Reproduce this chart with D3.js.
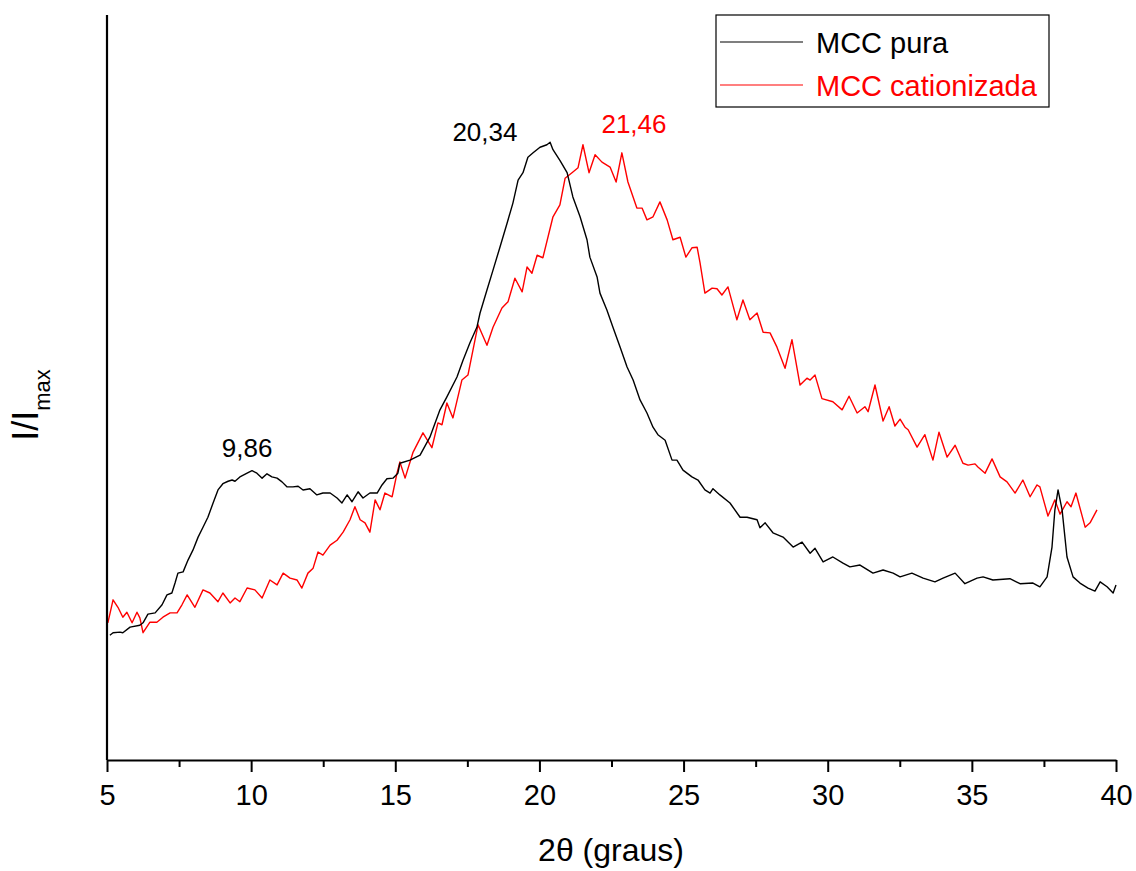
<!DOCTYPE html>
<html>
<head>
<meta charset="utf-8">
<script src="https://cdn.jsdelivr.net/npm/d3@7"></script>
<style>
  body { margin: 0; background: #fff; }
  text { font-family: Arial, "Liberation Sans", sans-serif; }
</style>
</head>
<body>
<svg id="chart"></svg>
<script>
// 2theta (graus) for MCC pura
const pureX = [5.10,5.21,5.45,5.55,5.80,6.14,6.25,6.42,6.67,6.91,7.08,7.25,7.36,7.46,7.64,7.81,7.98,8.16,8.33,8.50,
  8.68,8.85,9.02,9.20,9.34,9.44,9.61,9.86,10.03,10.20,10.38,10.55,10.72,10.90,11.07,11.24,11.45,11.63,11.80,12.04,
  12.28,12.49,12.74,12.98,13.15,13.33,13.50,13.71,13.88,14.12,14.37,14.54,14.71,14.92,15.09,15.16,15.51,15.86,16.20,16.55,
  16.79,17.14,17.35,17.59,17.83,17.94,18.18,18.39,18.63,18.88,19.08,19.26,19.43,19.60,19.78,20.02,20.26,20.37,20.47,20.71,
  20.96,21.16,21.41,21.65,21.75,22.00,22.10,22.34,22.55,22.80,23.04,23.25,23.49,23.73,23.94,24.11,24.36,24.60,24.77,24.98,
  25.29,25.50,25.74,25.92,26.02,26.26,26.61,26.96,27.20,27.55,27.65,27.83,28.10,28.45,28.80,29.11,29.39,29.56,29.84,30.18,
  30.53,30.77,31.12,31.57,31.92,32.27,32.51,32.92,33.31,33.72,34.00,34.42,34.76,35.18,35.39,35.73,36.32,36.67,37.12,37.36,
  37.61,37.78,37.88,37.99,38.13,38.30,38.51,38.75,39.03,39.27,39.45,39.69,39.90,40.00];
// I/Imax for MCC pura
const pureY = [0.201,0.205,0.206,0.205,0.214,0.217,0.221,0.235,0.237,0.250,0.266,0.269,0.285,0.301,0.303,0.322,0.338,0.359,0.375,0.391,
  0.414,0.435,0.445,0.449,0.451,0.449,0.456,0.462,0.466,0.462,0.454,0.461,0.456,0.454,0.448,0.440,0.440,0.441,0.435,0.437,
  0.427,0.430,0.430,0.422,0.414,0.427,0.416,0.432,0.422,0.430,0.430,0.443,0.453,0.454,0.462,0.478,0.483,0.491,0.520,0.564,
  0.585,0.617,0.644,0.672,0.697,0.720,0.757,0.789,0.826,0.865,0.897,0.934,0.946,0.971,0.978,0.987,0.991,0.995,0.983,0.966,
  0.946,0.907,0.875,0.838,0.810,0.778,0.752,0.725,0.697,0.665,0.633,0.612,0.580,0.559,0.536,0.524,0.515,0.483,0.483,0.467,
  0.456,0.451,0.435,0.430,0.437,0.427,0.414,0.391,0.391,0.387,0.374,0.382,0.366,0.359,0.343,0.351,0.333,0.341,0.319,0.327,
  0.317,0.311,0.314,0.301,0.306,0.301,0.295,0.301,0.293,0.287,0.293,0.301,0.284,0.293,0.295,0.290,0.292,0.284,0.285,0.279,
  0.295,0.343,0.403,0.435,0.403,0.327,0.295,0.285,0.277,0.272,0.287,0.279,0.269,0.282];

// 2theta (graus) for MCC cationizada
const catX = [5.03,5.21,5.38,5.55,5.69,5.87,6.04,6.14,6.25,6.49,6.73,6.94,7.19,7.43,7.60,7.78,8.05,8.33,8.57,8.85,
  9.02,9.27,9.44,9.61,9.86,10.13,10.38,10.65,10.90,11.11,11.35,11.59,11.76,11.97,12.15,12.32,12.49,12.74,12.98,13.19,
  13.43,13.60,13.78,13.95,14.12,14.30,14.47,14.64,14.89,15.06,15.16,15.34,15.61,15.96,16.27,16.48,16.62,16.79,17.00,17.31,
  17.52,17.87,18.18,18.39,18.70,18.91,19.15,19.40,19.57,19.74,19.92,20.12,20.47,20.71,20.89,21.13,21.34,21.51,21.72,21.93,
  22.17,22.45,22.66,22.86,23.07,23.38,23.56,23.73,23.94,24.18,24.43,24.63,24.88,25.08,25.29,25.47,25.57,25.74,25.99,26.16,
  26.33,26.54,26.85,27.06,27.30,27.55,27.76,28.00,28.24,28.52,28.76,29.04,29.28,29.39,29.56,29.80,30.18,30.50,30.74,31.02,
  31.29,31.40,31.64,31.92,32.13,32.33,32.51,32.68,32.79,33.10,33.37,33.65,33.86,34.14,34.42,34.69,34.87,35.11,35.21,35.46,
  35.70,35.98,36.22,36.50,36.77,37.02,37.26,37.36,37.64,37.88,38.06,38.30,38.44,38.61,38.93,39.10,39.34];
// I/Imax for MCC cationizada
const catY = [0.221,0.258,0.246,0.230,0.238,0.221,0.238,0.229,0.205,0.222,0.222,0.230,0.237,0.237,0.250,0.266,0.246,0.274,0.269,0.255,
  0.269,0.253,0.261,0.255,0.277,0.274,0.261,0.290,0.282,0.301,0.293,0.290,0.277,0.301,0.309,0.335,0.330,0.346,0.354,0.367,
  0.387,0.408,0.387,0.382,0.367,0.419,0.403,0.430,0.424,0.462,0.480,0.454,0.495,0.527,0.503,0.543,0.540,0.575,0.551,0.612,
  0.620,0.701,0.668,0.697,0.728,0.738,0.776,0.754,0.794,0.784,0.813,0.809,0.875,0.894,0.937,0.946,0.954,0.991,0.946,0.975,
  0.963,0.955,0.931,0.978,0.931,0.889,0.889,0.870,0.875,0.899,0.870,0.838,0.842,0.810,0.825,0.826,0.801,0.752,0.760,0.759,
  0.749,0.762,0.709,0.741,0.709,0.720,0.689,0.688,0.665,0.631,0.677,0.604,0.615,0.612,0.620,0.582,0.577,0.564,0.586,0.559,
  0.569,0.561,0.604,0.546,0.569,0.538,0.549,0.536,0.532,0.504,0.524,0.483,0.528,0.488,0.507,0.478,0.475,0.477,0.472,0.462,
  0.485,0.456,0.448,0.430,0.451,0.424,0.443,0.440,0.393,0.419,0.396,0.416,0.408,0.430,0.375,0.382,0.403];

const xTicks = [5, 10, 15, 20, 25, 30, 35, 40];
const seriesNames = ["MCC pura", "MCC cationizada"];
const seriesColors = ["#000000", "#ff0000"];
const peakLabels = ["9,86", "20,34", "21,46"];
// where each label sits (x in graus, y in I/Imax)
const peakPos = [[9.86, 0.488], [18.11, 0.997], [23.28, 1.010]];
const peakColors = ["#000000", "#000000", "#ff0000"];

class XrdChart {
  constructor(_config) {
    this.config = {
      parentElement: _config.parentElement,
      containerWidth: _config.containerWidth || 1136,
      containerHeight: _config.containerHeight || 871,
      margin: { top: 15, bottom: 111, right: 20, left: 107 }
    }
    this.initVis();
  }

  initVis() {
    let vis = this;
    const m = vis.config.margin;
    vis.width = vis.config.containerWidth - m.left - m.right;
    vis.height = vis.config.containerHeight - m.top - m.bottom;

    vis.svg = d3.select(vis.config.parentElement)
      .attr('width', vis.config.containerWidth)
      .attr('height', vis.config.containerHeight);

    vis.chart = vis.svg.append('g')
      .attr('transform', `translate(${m.left},${m.top})`);

    vis.x = d3.scaleLinear().domain([5, 40]).range([0, 1009]);
    vis.y = d3.scaleLinear().domain([0, 1.2]).range([vis.height, 0]);

    vis.line = d3.line()
      .x(d => vis.x(d[0]))
      .y(d => vis.y(d[1]));

    vis.series = [
      pureX.map((v, i) => [v, pureY[i]]),
      catX.map((v, i) => [v, catY[i]])
    ];

    // curves: red first so the black sits on top like the original
    [1, 0].forEach(i => {
      vis.chart.append('path')
        .datum(vis.series[i])
        .attr('fill', 'none')
        .attr('stroke', seriesColors[i])
        .attr('stroke-width', 1.4)
        .attr('stroke-linejoin', 'round')
        .attr('d', vis.line);
    });

    // x axis with minor ticks
    const minor = d3.range(7.5, 40, 5);
    vis.chart.append('g')
      .attr('transform', `translate(0,${vis.height})`)
      .call(d3.axisBottom(vis.x).tickValues(minor).tickSize(7).tickFormat(''))
      .call(g => g.select('.domain').remove())
      .call(g => g.selectAll('line').attr('stroke-width', 2));

    vis.chart.append('g')
      .attr('transform', `translate(0,${vis.height})`)
      .call(d3.axisBottom(vis.x).tickValues(xTicks).tickSize(12).tickSizeOuter(0).tickPadding(12))
      .call(g => g.select('.domain').attr('stroke-width', 2.2))
      .call(g => g.selectAll('line').attr('stroke-width', 2))
      .call(g => g.selectAll('text')
        .attr('font-size', 29)
        .attr('font-family', 'Arial, "Liberation Sans", sans-serif')
        .attr('fill', '#000'));

    // y axis: plain line, no ticks
    vis.chart.append('line')
      .attr('x1', 0).attr('x2', 0)
      .attr('y1', 0).attr('y2', vis.height)
      .attr('stroke', '#000')
      .attr('stroke-width', 2.2);

    // axis titles
    vis.svg.append('text')
      .attr('x', 611)
      .attr('y', 861)
      .attr('text-anchor', 'middle')
      .attr('font-size', 32)
      .text('2θ (graus)');

    const yl = vis.svg.append('text')
      .attr('transform', 'translate(38,405) rotate(-90)')
      .attr('text-anchor', 'middle')
      .attr('font-size', 36);
    yl.append('tspan').text('I/I');
    yl.append('tspan').attr('font-size', 22).attr('dy', 12).text('max');

    // peak annotations
    peakLabels.forEach((t, i) => {
      vis.chart.append('text')
        .attr('x', vis.x(peakPos[i][0]))
        .attr('y', vis.y(peakPos[i][1]))
        .attr('text-anchor', 'middle')
        .attr('font-size', 26)
        .attr('fill', peakColors[i])
        .text(t);
    });

    // legend
    const lg = vis.svg.append('g').attr('transform', 'translate(716,15)');
    lg.append('rect')
      .attr('width', 333).attr('height', 92)
      .attr('fill', '#fff')
      .attr('stroke', '#000')
      .attr('stroke-width', 1.2);
    seriesNames.forEach((name, i) => {
      lg.append('line')
        .attr('x1', 4).attr('x2', 87)
        .attr('y1', 27 + i * 43).attr('y2', 27 + i * 43)
        .attr('stroke', seriesColors[i])
        .attr('stroke-width', 1.2);
      lg.append('text')
        .attr('x', 100)
        .attr('y', 38 + i * 43)
        .attr('font-size', 29)
        .attr('fill', seriesColors[i])
        .text(name);
    });
  }
}

new XrdChart({ parentElement: '#chart' });
</script>
</body>
</html>
